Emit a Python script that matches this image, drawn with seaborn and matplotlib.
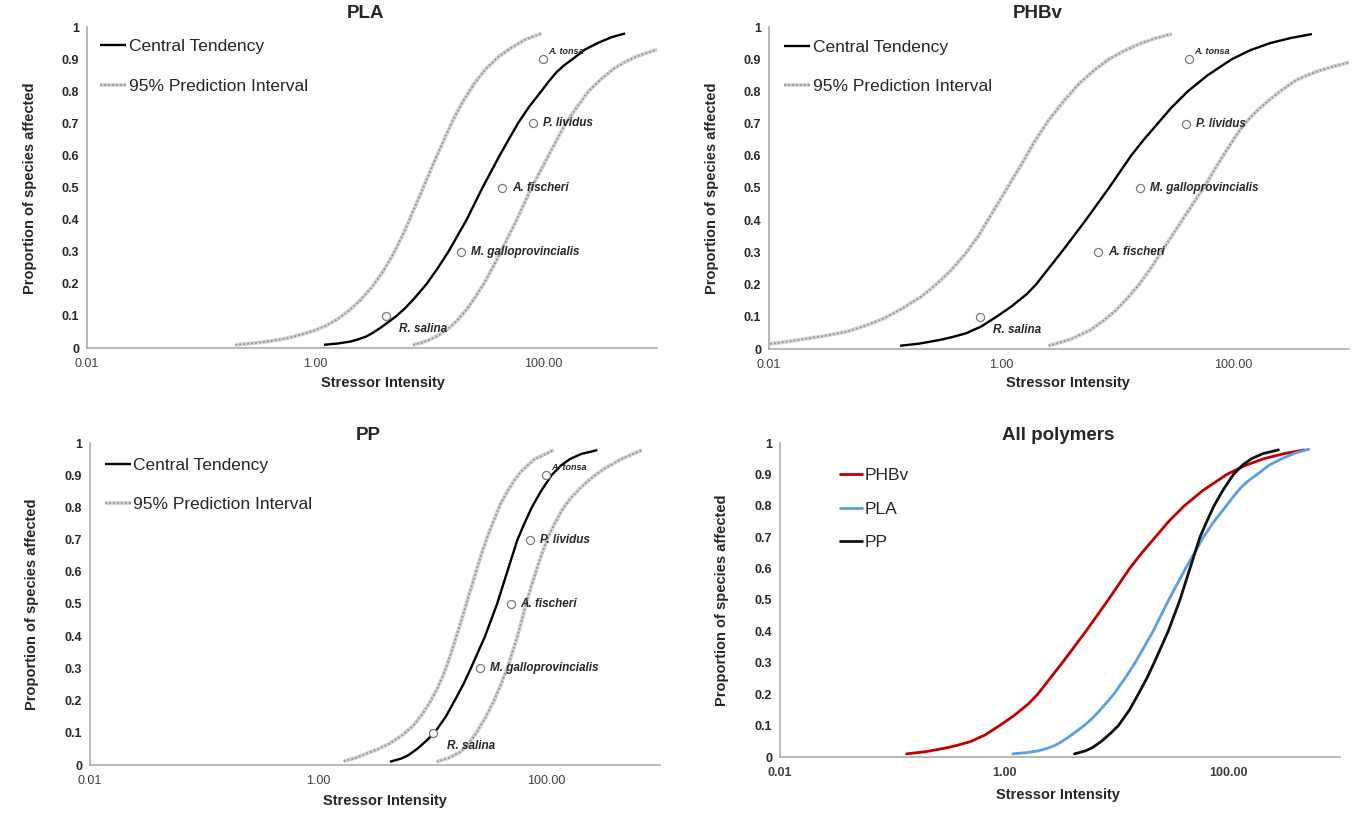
import numpy as np
import matplotlib
matplotlib.use('Agg')
import matplotlib.pyplot as plt
from matplotlib.ticker import NullLocator
import seaborn as sns

sns.set_style('white')
plt.rcParams['font.family'] = ['Liberation Sans', 'DejaVu Sans']

W, H = 1359, 818

# ---- data (stressor intensity, proportion affected) ----
pla_mid_x = [1.20, 1.58, 2.04, 2.40, 2.82, 3.24, 3.72, 4.37, 5.19, 6.17, 7.24, 8.32, 9.55, 12.0,
             14.8, 21.4, 29.5, 41.7, 50.1, 60.3, 75.0, 96.6, 112, 132, 155, 182, 234, 302, 398, 525]
pla_mid_y = [0.01, 0.014, 0.02, 0.027, 0.036, 0.048, 0.062, 0.08, 0.1, 0.124, 0.15, 0.175, 0.2, 0.25,
             0.3, 0.4, 0.5, 0.6, 0.65, 0.7, 0.75, 0.8, 0.83, 0.86, 0.882, 0.9, 0.93, 0.95, 0.968, 0.98]
pla_lo_x = [0.200, 0.275, 0.380, 0.501, 0.646, 0.794, 1.0, 1.26, 1.58, 2.0, 2.51, 3.16, 3.98, 4.90,
            6.03, 7.33, 8.91, 10.8, 13.2, 16.2, 20.0, 25.1, 31.6, 40.7, 52.5, 70.8, 97.7]
pla_lo_y = [0.01, 0.014, 0.02, 0.027, 0.035, 0.044, 0.055, 0.07, 0.09, 0.117, 0.15, 0.19, 0.24, 0.295,
            0.36, 0.43, 0.5, 0.57, 0.64, 0.71, 0.77, 0.825, 0.87, 0.907, 0.935, 0.962, 0.98]
pla_hi_x = [7.24, 8.51, 10.0, 12.2, 14.8, 17.8, 21.4, 25.4, 30.2, 35.9, 42.7, 50.1, 58.9, 68.4,
            79.4, 94.4, 112, 133, 158, 200, 251, 324, 417, 513, 631, 794, 1000]
pla_hi_y = [0.01, 0.016, 0.025, 0.04, 0.06, 0.087, 0.12, 0.158, 0.2, 0.248, 0.3, 0.35, 0.4, 0.45,
            0.5, 0.55, 0.6, 0.65, 0.7, 0.752, 0.8, 0.838, 0.87, 0.889, 0.905, 0.918, 0.93]

phbv_mid_x = [0.135, 0.200, 0.295, 0.380, 0.501, 0.676, 0.912, 1.23, 1.66, 2.0, 2.57, 3.31, 4.22, 5.37,
              6.76, 8.51, 10.6, 13.2, 17.0, 22.4, 29.5, 40.7, 60.3, 97.7, 141, 209, 316, 479]
phbv_mid_y = [0.01, 0.017, 0.028, 0.037, 0.049, 0.07, 0.1, 0.132, 0.17, 0.2, 0.25, 0.3, 0.35, 0.4,
              0.45, 0.5, 0.55, 0.6, 0.65, 0.7, 0.75, 0.8, 0.85, 0.9, 0.928, 0.95, 0.966, 0.978]
phbv_lo_x = [0.0102, 0.0151, 0.0219, 0.0316, 0.0468, 0.0676, 0.0977, 0.141, 0.204, 0.275, 0.372, 0.490,
             0.631, 0.785, 0.977, 1.22, 1.51, 1.95, 2.57, 3.47, 4.68, 6.31, 8.51, 11.5, 15.5, 21.4, 29.5]
phbv_lo_y = [0.016, 0.024, 0.033, 0.042, 0.054, 0.072, 0.095, 0.126, 0.162, 0.2, 0.245, 0.295,
             0.348, 0.405, 0.462, 0.52, 0.575, 0.645, 0.71, 0.77, 0.823, 0.865, 0.90, 0.926, 0.947, 0.965, 0.978]
phbv_hi_x = [2.57, 3.98, 5.89, 7.59, 9.77, 12.3, 15.5, 19.3, 24.0, 30.2, 38.0, 47.9, 60.3, 73.3,
             89.1, 105, 126, 158, 200, 263, 347, 442, 562, 741, 1000]
phbv_hi_y = [0.01, 0.03, 0.059, 0.087, 0.12, 0.158, 0.20, 0.248, 0.30, 0.355, 0.41, 0.465, 0.52, 0.572,
             0.62, 0.66, 0.70, 0.737, 0.77, 0.804, 0.834, 0.851, 0.865, 0.878, 0.89]

pp_mid_x = [4.27, 5.37, 6.17, 7.41, 8.91, 10.5, 13.2, 15.8, 18.8, 21.9, 29.2, 37.2, 45.7, 56.2,
            64.6, 75.0, 90.2, 112, 135, 162, 204, 282]
pp_mid_y = [0.01, 0.02, 0.03, 0.05, 0.075, 0.1, 0.15, 0.2, 0.25, 0.3, 0.4, 0.5, 0.6, 0.7,
            0.75, 0.8, 0.85, 0.9, 0.93, 0.95, 0.966, 0.978]
pp_lo_x = [1.68, 2.14, 2.69, 3.39, 4.27, 5.50, 6.92, 8.22, 9.66, 11.1, 12.6, 14.0, 15.5, 17.2,
           19.1, 21.1, 23.4, 25.7, 28.2, 31.6, 35.5, 39.8, 45.7, 52.5, 60.3, 79.4, 117]
pp_lo_y = [0.012, 0.022, 0.036, 0.05, 0.067, 0.093, 0.124, 0.158, 0.197, 0.237, 0.28, 0.325, 0.373, 0.424,
           0.476, 0.528, 0.58, 0.628, 0.673, 0.722, 0.766, 0.81, 0.849, 0.883, 0.911, 0.95, 0.978]
pp_hi_x = [11.0, 14.1, 17.8, 20.9, 24.5, 29.2, 34.7, 39.8, 45.7, 50.7, 56.2, 61.7, 67.6, 75.0,
           83.2, 92.3, 102, 120, 141, 166, 200, 251, 324, 457, 692]
pp_hi_y = [0.01, 0.022, 0.041, 0.066, 0.10, 0.145, 0.197, 0.246, 0.30, 0.35, 0.40, 0.453, 0.507, 0.56,
           0.61, 0.657, 0.70, 0.752, 0.797, 0.83, 0.86, 0.892, 0.92, 0.95, 0.978]

# species toxicity points
pla_species = ['R. salina', 'M. galloprovincialis', 'A. fischeri', 'P. lividus', 'A. tonsa']
pla_sp_x = [4.2, 19.0, 44.0, 81.0, 100.0]
phbv_species = ['R. salina', 'A. fischeri', 'M. galloprovincialis', 'P. lividus', 'A. tonsa']
phbv_sp_x = [0.66, 6.9, 15.7, 39.0, 42.0]
pp_species = ['R. salina', 'M. galloprovincialis', 'A. fischeri', 'P. lividus', 'A. tonsa']
pp_sp_x = [10.3, 26.6, 49.0, 73.0, 100.0]
sp_y = [0.1, 0.3, 0.5, 0.7, 0.9]

x_ticks = [0.01, 1, 100]
x_tick_labels = ['0.01', '1.00', '100.00']
y_ticks = [0, 0.1, 0.2, 0.3, 0.4, 0.5, 0.6, 0.7, 0.8, 0.9, 1.0]
y_tick_labels = ['0', '0.1', '0.2', '0.3', '0.4', '0.5', '0.6', '0.7', '0.8', '0.9', '1']

GREY_BG = '#d4d4d4'
GREY_FG = '#929292'
SPINE = '#a6a6a6'


def px_axes(fig, left, top, right, bottom):
    """Add axes from a pixel box (origin top-left)."""
    return fig.add_axes([left / W, 1 - bottom / H, (right - left) / W, (bottom - top) / H])


def ftext(fig, x, y, s, **kw):
    fig.text(x / W, 1 - y / H, s, ha='center', va='center', **kw)


def style_axes(ax, bold_x=False):
    ax.set_xscale('log')
    ax.set_xlim(0.01, 1000)
    ax.set_ylim(0, 1)
    ax.set_xticks(x_ticks)
    ax.set_xticklabels(x_tick_labels, fontsize=9, color='#404040',
                       fontweight='bold' if bold_x else 'normal')
    ax.xaxis.set_minor_locator(NullLocator())
    ax.set_yticks(y_ticks)
    ax.set_yticklabels(y_tick_labels, fontsize=9, fontweight='bold', color='#262626')
    for side in ['top', 'right']:
        ax.spines[side].set_visible(False)
    for side in ['left', 'bottom']:
        ax.spines[side].set_color(SPINE)
        ax.spines[side].set_linewidth(1.1)
    ax.tick_params(axis='both', direction='out', length=3, width=1, color=SPINE, pad=2.5)
    ax.tick_params(axis='x', pad=4)
    ax.set_xlabel('')
    ax.set_ylabel('')


def interval_line(ax, x, y):
    sns.lineplot(x=x, y=y, ax=ax, color=GREY_BG, lw=2.8, sort=False, estimator=None)
    bg = ax.lines[-1]
    sns.lineplot(x=x, y=y, ax=ax, color=GREY_FG, lw=1.3, sort=False, estimator=None,
                 linestyle=(0, (1.0, 1.2)))
    fg = ax.lines[-1]
    return (bg, fg)


def ssd_panel(ax, mid_x, mid_y, lo_x, lo_y, hi_x, hi_y, names, sp_x, legend_anchor):
    pi = interval_line(ax, lo_x, lo_y)
    interval_line(ax, hi_x, hi_y)
    sns.lineplot(x=mid_x, y=mid_y, ax=ax, color='black', lw=1.7, sort=False, estimator=None)
    ct = ax.lines[-1]
    for ln in ax.lines:
        ln.set_solid_joinstyle('round')
        ln.set_solid_capstyle('butt')
    sns.scatterplot(x=sp_x, y=sp_y, ax=ax, s=34, facecolor='white',
                    edgecolor='#7a7a7a', linewidth=0.9, zorder=5)
    for name, xv, yv in zip(names, sp_x, sp_y):
        if name == 'R. salina':
            off, fs = (9.5, -9.5), 8.5
        elif name == 'A. tonsa':
            off, fs = (3.5, 5.5), 6.5
        else:
            off, fs = (7.2, 0), 8.5
        ax.annotate(name, (xv, yv), xytext=off, textcoords='offset points',
                    fontsize=fs, fontweight='bold', fontstyle='italic',
                    color='#262626', ha='left', va='center')
    ax.legend([ct, pi], ['Central Tendency', '95% Prediction Interval'],
              loc='upper left', bbox_to_anchor=legend_anchor, frameon=False,
              fontsize=12.5, handlelength=1.5, handletextpad=0.15,
              labelspacing=1.4, borderpad=0, borderaxespad=0)
    style_axes(ax)


fig = plt.figure(figsize=(W / 100, H / 100), dpi=100)
fig.patch.set_facecolor('white')

ax1 = px_axes(fig, 87, 27, 657, 348)
ssd_panel(ax1, pla_mid_x, pla_mid_y, pla_lo_x, pla_lo_y, pla_hi_x, pla_hi_y,
          pla_species, pla_sp_x, (0.023, 0.962))

ax2 = px_axes(fig, 769, 27, 1349, 349)
ssd_panel(ax2, phbv_mid_x, phbv_mid_y, phbv_lo_x, phbv_lo_y, phbv_hi_x, phbv_hi_y,
          phbv_species, phbv_sp_x, (0.026, 0.960))

ax3 = px_axes(fig, 90, 443, 660, 765)
ssd_panel(ax3, pp_mid_x, pp_mid_y, pp_lo_x, pp_lo_y, pp_hi_x, pp_hi_y,
          pp_species, pp_sp_x, (0.026, 0.955))

# All polymers
ax4 = px_axes(fig, 780, 443, 1340, 757)
handles = []
for xs, ys, col in [(phbv_mid_x, phbv_mid_y, '#c00000'),
                    (pla_mid_x, pla_mid_y, '#5b9fe0'),
                    (pp_mid_x, pp_mid_y, '#111111')]:
    sns.lineplot(x=xs, y=ys, ax=ax4, color=col, lw=2.0, sort=False, estimator=None)
    ax4.lines[-1].set_solid_joinstyle('round')
    handles.append(ax4.lines[-1])
ax4.legend(handles, ['PHBv', 'PLA', 'PP'], loc='upper left', bbox_to_anchor=(0.107, 0.92),
           frameon=False, fontsize=12.5, handlelength=1.3, handletextpad=0.1,
           labelspacing=1.05, borderpad=0, borderaxespad=0)
style_axes(ax4, bold_x=True)

# titles and axis labels
ftext(fig, 366, 13, 'PLA', fontsize=13.5, fontweight='bold')
ftext(fig, 1038, 13, 'PHBv', fontsize=13.5, fontweight='bold')
ftext(fig, 368, 436, 'PP', fontsize=13.5, fontweight='bold')
ftext(fig, 1058, 436, 'All polymers', fontsize=13.5, fontweight='bold')

for (x, y) in [(383, 383), (1068, 383), (385, 801), (1058, 795)]:
    ftext(fig, x, y, 'Stressor Intensity', fontsize=10.5, fontweight='bold', color='#262626')
for (x, y) in [(30, 188), (712, 188), (32, 604), (722, 600)]:
    ftext(fig, x, y, 'Proportion of species affected', fontsize=10.5, fontweight='bold',
          color='#262626', rotation=90)

fig.savefig('out.png', dpi=100, facecolor='white')
plt.close(fig)
